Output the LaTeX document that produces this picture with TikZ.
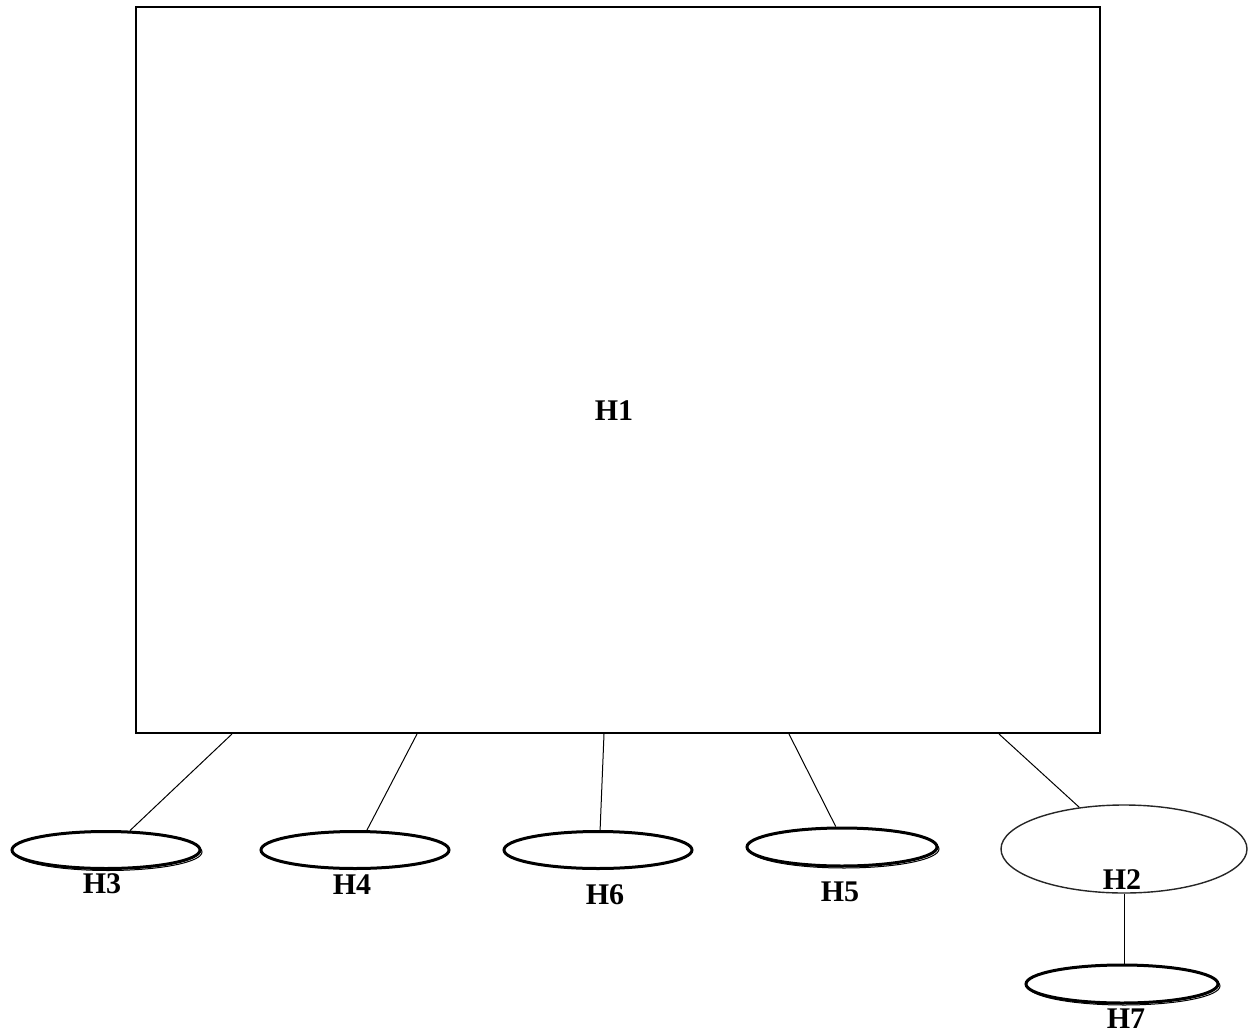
\documentclass[tikz,border=0pt]{standalone}
\usepackage{fontspec}
\setmainfont{Liberation Serif}
\usetikzlibrary{shapes.geometric,calc,shadows}
\begin{document}
\begin{tikzpicture}[x=1pt,y=-1pt,
  box/.style={draw, line width=2pt, minimum width=964pt, minimum height=726pt, inner sep=0pt},
  leaf/.style={ellipse, draw, line width=3pt, fill=white, inner sep=0pt,
               minimum width=188pt, minimum height=37pt},
  shadowleaf/.style={leaf, general shadow={shadow xshift=2pt, shadow yshift=-2pt,
               draw=black, line width=1pt, fill=white}},
  hub/.style={ellipse, draw=black!85, line width=1.4pt, inner sep=0pt,
              minimum width=246pt, minimum height=88pt},
  tag/.style={font=\bfseries\fontsize{30}{32}\selectfont, inner sep=0pt},
  link/.style={line width=1pt}]
\useasboundingbox (0,0) rectangle (1256,1033);

% main block
\node[box] (H1) at (618,370) {};
\node[tag] (t1) at (614,411) {H1};

% child ellipses
\node[shadowleaf] (H3) at (106,850) {};
\node[leaf]       (H4) at (355,850) {};
\node[leaf]       (H6) at (598,850) {};
\node[shadowleaf, minimum width=190pt, minimum height=38pt] (H5) at (842,847) {};
\node[hub]        (H2) at (1124,849) {};
\node[shadowleaf, minimum width=192pt, minimum height=38pt] (H7) at (1122,984) {};

% labels
\node[tag] (t3) at (102,884) {H3};
\node[tag] (t4) at (352,885) {H4};
\node[tag] (t6) at (605,895) {H6};
\node[tag] (t5) at (840,892) {H5};
\node[tag] (t2) at (1122,880) {H2};
\node[tag] (t7) at (1126,1019) {H7};

% connectors
\draw[link] ($(H1.south west)+(97,0)$)  -- (H3.39);
\draw[link] ($(H1.south west)+(282,0)$) -- (H4.59);
\draw[link] ($(H1.south west)+(469,0)$) -- (H6.84);
\draw[link] ($(H1.south west)+(654,0)$) -- (H5.107);
\draw[link] ($(H1.south west)+(864,0)$) -- (H2.137);
\draw[link] (H2.south) -- (H2.south |- H7.north);
\end{tikzpicture}
\end{document}
